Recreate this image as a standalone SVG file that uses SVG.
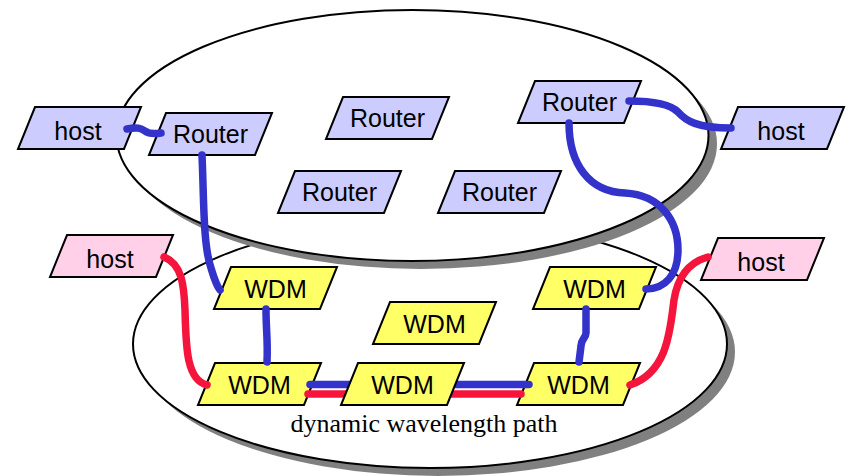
<svg xmlns="http://www.w3.org/2000/svg" xmlns:xlink="http://www.w3.org/1999/xlink" width="852" height="476" viewBox="0 0 852 476">
<style>
.ell{fill:#fff;stroke:#000;stroke-width:2}
.shd{fill:#808080}
.nd{stroke:#000;stroke-width:2;stroke-linejoin:miter}
.router{fill:#CCCCFF}
.host{fill:#CCCCFF}
.phost{fill:#FFD0E8}
.wdm{fill:#FFFF66}
.lbl{font-family:"Liberation Sans",Arial,sans-serif;font-size:25px;fill:#000;text-anchor:middle}
.cap{font-family:"Liberation Serif","Times New Roman",serif;font-size:26px;fill:#000;text-anchor:middle}
.bl{fill:none;stroke:#3333CC;stroke-width:7.5;stroke-linecap:round}
.rd{fill:none;stroke:#F5143C;stroke-width:7.5;stroke-linecap:round}
</style>
<defs>
<polygon id="para" points="0,0 106,0 89,42 -17,42"/>
</defs>
<rect width="852" height="476" fill="#fff"/>
<g id="lower-network">
<ellipse class="shd" cx="438" cy="352" rx="297" ry="124"/>
<ellipse class="ell" cx="430" cy="344" rx="297" ry="124"/>
</g>
<g id="upper-network">
<ellipse class="shd" cx="421" cy="144" rx="296" ry="125"/>
<ellipse class="ell" cx="412.5" cy="135.5" rx="296" ry="125.5"/>
</g>
<text class="cap" x="424" y="432">dynamic wavelength path</text>
<g id="host-left"><use xlink:href="#para" class="nd host" x="35" y="107"/><text class="lbl" x="78" y="140">host</text></g>
<g id="router-1"><use xlink:href="#para" class="nd router" x="166" y="113"/><text class="lbl" x="210.5" y="143">Router</text></g>
<g id="router-2"><use xlink:href="#para" class="nd router" x="343" y="97"/><text class="lbl" x="387.5" y="127">Router</text></g>
<g id="router-3"><use xlink:href="#para" class="nd router" x="295" y="171"/><text class="lbl" x="339.5" y="201">Router</text></g>
<g id="router-4"><use xlink:href="#para" class="nd router" x="535" y="81"/><text class="lbl" x="579.5" y="111">Router</text></g>
<g id="router-5"><use xlink:href="#para" class="nd router" x="455" y="171"/><text class="lbl" x="499.5" y="201">Router</text></g>
<g id="host-right"><use xlink:href="#para" class="nd host" x="738" y="107"/><text class="lbl" x="781" y="140">host</text></g>
<g id="host-pink-left"><use xlink:href="#para" class="nd phost" x="67" y="235"/><text class="lbl" x="110" y="268">host</text></g>
<g id="host-pink-right"><use xlink:href="#para" class="nd phost" x="718" y="238"/><text class="lbl" x="761" y="271">host</text></g>
<g id="wdm-1"><use xlink:href="#para" class="nd wdm" x="231" y="267"/><text class="lbl" x="275.5" y="298">WDM</text></g>
<g id="wdm-2"><use xlink:href="#para" class="nd wdm" x="215" y="363"/><text class="lbl" x="259.5" y="394">WDM</text></g>
<g id="wdm-4"><use xlink:href="#para" class="nd wdm" x="390" y="302"/><text class="lbl" x="434.5" y="333">WDM</text></g>
<g id="wdm-5"><use xlink:href="#para" class="nd wdm" x="550" y="267"/><text class="lbl" x="594.5" y="298">WDM</text></g>
<g id="wdm-6"><use xlink:href="#para" class="nd wdm" x="534" y="363"/><text class="lbl" x="578.5" y="394">WDM</text></g>
<g id="connectors">
<path class="bl" d="M127,129 C137,127 141,128 145,131 S155,134 161,133"/>
<path class="bl" d="M202,155 C204,200 203,245 211,268 C214,278 216,285 220,290"/>
<path class="bl" d="M266,309 C266,330 268,340 267,362"/>
<path class="rd" d="M164,257 C182,264 184,285 185,310 C186,345 186,380 207,385"/>
<path class="bl" d="M310,384.5 L529,384.5"/>
<path class="rd" d="M308,394 L521,394"/>
<path class="bl" d="M629,101 C650,101 670,104 678,112 C686,121 697,128 731,128"/>
<path class="bl" d="M569,123 C569,165 590,192 625,193 C660,195 678,220 678,250 C678,275 665,289 646,289"/>
<path class="bl" d="M586,309 L586,333 C586,338 581,339 581,346 L579,362"/>
<path class="rd" d="M708,257 C690,262 678,275 674,300 C670,330 668,372 630,385"/>
</g>
<g id="wdm-3"><use xlink:href="#para" class="nd wdm" x="358" y="363"/><text class="lbl" x="402.5" y="394">WDM</text></g>
</svg>
